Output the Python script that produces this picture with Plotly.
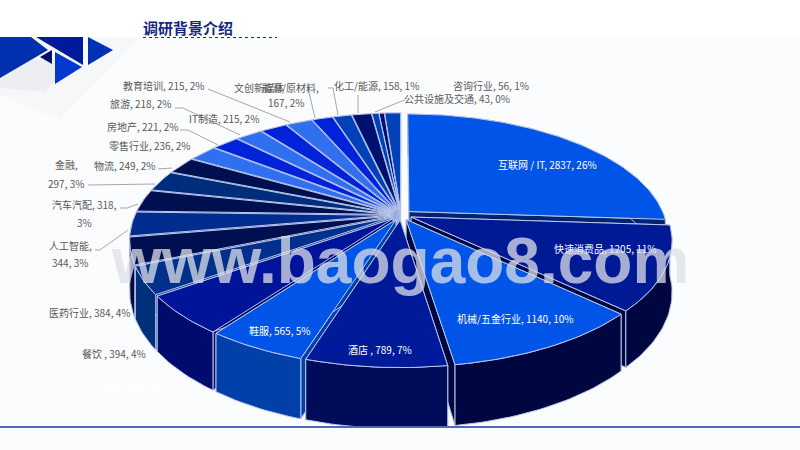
import math
import plotly.graph_objects as go

categories = ["互联网 / IT", "快速消费品", "机械/五金行业", "酒店 ", "鞋服", "建材家居", "餐饮 ", "医药行业", "人工智能",
              "汽车汽配", "金融", "物流", "零售行业", "房地产", "旅游", "IT制造", "教育培训", "文创新媒体", "能源/原材料",
              "化工/能源", "咨询行业", "公共设施及交通", "其他"]
values = [2837, 1205, 1140, 789, 565, 557, 394, 384, 344, 318, 297, 249, 236, 221, 218, 215, 215, 167, 150, 158, 56, 43, 130]
percents = [26, 11, 10, 7, 5, 5, 4, 4, 3, 3, 3, 2, 2, 2, 2, 2, 2, 2, 1, 1, 1, 0, 1]
top_colors = ["#0055E8", "#001A96", "#0055E8", "#001A9A", "#0055E8", "#001499", "#00308C", "#000F50", "#002C90",
              "#000F50", "#002C7C", "#000F50", "#3070F0", "#0022D8", "#3070F0", "#0022D8", "#3070F0", "#0022D8", "#0040B8",
              "#001070", "#0040B8", "#001070", "#0040B8"]
wall_colors = ["#00246E", "#00063F", "#00063F", "#000B5A", "#0040A8", "#000B6E", "#00307A", "#000A40", "#001F68",
               "#000A40", "#001F58", "#000A40", "#2050B0", "#0018A0", "#2050B0", "#0018A0", "#2050B0", "#0018A0", "#003090",
               "#000A50", "#003090", "#000A50", "#003090"]

# label placement (pixel centres); a list gives one row per line
label_pos = {
    0: [(547, 164)], 1: [(605, 248)], 2: [(515, 318)], 3: [(380, 349)], 4: [(279, 330)], 5: [(145, 387)],
    6: [(114, 353)], 7: [(89, 312)], 8: [(70, 245), (70, 262)], 9: [(84, 204), (84, 222)], 10: [(66, 164), (66, 183)],
    11: [(124, 165)], 12: [(149, 145)], 13: [(142, 126)], 14: [(140, 103)], 15: [(224, 118)], 16: [(163, 85)],
    19: [(376, 85)], 20: [(491, 85)], 21: [(457, 98)],
}
WHITE_LABELS = {0, 1, 2, 3, 4, 5}
leaders = [[(208, 89), (290, 122)], [(175, 108), (183, 108), (240, 135)], [(180, 130), (188, 130), (218, 145)],
           [(158, 169), (172, 168)], [(88, 185), (155, 184)], [(120, 208), (127, 208), (138, 204)],
           [(95, 250), (100, 250), (128, 230)], [(308, 88), (315, 118)], [(328, 88), (333, 88), (338, 115)],
           [(358, 95), (358, 113)], [(375, 112), (397, 103), (405, 100)]]

CX, CY, R, K, P, H, EXPLODE = 401, 215, 255, 0.46, 0.19, 49, 11
BG = "#FBFCFD"


def project(ux, vy, drop=0.0):
    s = 1 / (1 - P * vy / R)
    return CX + ux * s, CY + vy * K * s + drop * s


def slice_faces(a0, a1):
    mid = (a0 + a1) / 2
    ox, oy = EXPLODE * math.sin(mid), -EXPLODE * math.cos(mid)
    n = max(3, int((a1 - a0) / 0.02))
    rim = [(ox + R * math.sin(a0 + (a1 - a0) * i / n), oy - R * math.cos(a0 + (a1 - a0) * i / n)) for i in range(n + 1)]
    apex = (ox, oy)
    top = [project(*apex)] + [project(*p) for p in rim]
    outer = [project(*p) for p in rim] + [project(*p, H) for p in reversed(rim)]
    wall_a = [project(*apex), project(*rim[0]), project(*rim[0], H), project(*apex, H)]
    wall_b = [project(*apex), project(*rim[-1]), project(*rim[-1], H), project(*apex, H)]
    depth = math.cos(mid) * -1
    return depth, top, outer, wall_a, wall_b


def poly(points, fill, line="#B9C6EC", width=1.0, name=""):
    xs = [p[0] for p in points] + [points[0][0]]
    ys = [p[1] for p in points] + [points[0][1]]
    return go.Scatter(x=xs, y=ys, mode="lines", fill="toself", fillcolor=fill, line=dict(color=line, width=width),
                      name=name, hoverinfo="name", showlegend=False)


total = sum(values)
slices, angle = [], 0.0
for i, v in enumerate(values):
    a1 = angle + 2 * math.pi * v / total
    slices.append((i, slice_faces(angle, a1)))
    angle = a1
slices.sort(key=lambda t: t[1][0])

fig = go.Figure()
for i, (depth, top, outer, wall_a, wall_b) in slices:
    fig.add_trace(poly(wall_a, wall_colors[i], name=categories[i]))
    fig.add_trace(poly(wall_b, wall_colors[i], name=categories[i]))
    fig.add_trace(poly(outer, wall_colors[i], name=categories[i]))
    fig.add_trace(poly(top, top_colors[i], name=categories[i]))

shapes = [
    dict(type="path", path="M0,37 L140,37 L60,120 L0,95 Z", fillcolor="rgba(205,208,215,0.10)", line_width=0, layer="below"),
    dict(type="path", path="M0,60 L75,60 L45,92 L0,88 Z", fillcolor="rgba(205,208,215,0.22)", line_width=0, layer="below"),
    dict(type="path", path="M0,37 L31,37 L48,50 L0,78 Z", fillcolor="#0030B0", line_width=0),
    dict(type="path", path="M36,37 L83,37 L83,65 Z", fillcolor="#001A9A", line_width=0),
    dict(type="path", path="M88,37 L113,50 L88,65 Z", fillcolor="#0030B8", line_width=0),
    dict(type="path", path="M40,57 L52,50 L52,64 Z", fillcolor="#00106A", line_width=0),
    dict(type="path", path="M55,52 L82,67 L55,84 Z", fillcolor="#0038D0", line_width=0),
    dict(type="rect", x0=0, x1=800, y0=0, y1=37, fillcolor="#FFFFFF", line_width=0),
    dict(type="line", x0=143, x1=277, y0=37.5, y1=37.5, line=dict(color="#1A2A6A", width=1, dash="dot")),
    dict(type="rect", x0=0, x1=800, y0=428, y1=450, fillcolor=BG, line_width=0),
    dict(type="line", x0=0, x1=800, y0=427, y1=427, line=dict(color="#5568B8", width=2)),
]
for pts in leaders:
    path = "M" + " L".join(f"{x},{y}" for x, y in pts)
    shapes.append(dict(type="path", path=path, line=dict(color="#A6A6A6", width=1)))

FONT = "Noto Sans CJK SC"
annotations = []


def note(x, y, text, size=10, color="#595959", family=FONT):
    annotations.append(dict(x=x, y=y, xref="x", yref="y", text=text, showarrow=False, xanchor="center", yanchor="middle",
                            font=dict(size=size, color=color, family=family)))


for i, pos in label_pos.items():
    full = f"{categories[i]}, {values[i]}, {percents[i]}%"
    color = "#FFFFFF" if i in WHITE_LABELS else "#595959"
    if len(pos) == 1:
        note(*pos[0], full, color=color)
    elif i == 9:
        note(*pos[0], f"{categories[i]}, {values[i]},", color=color)
        note(*pos[1], f"{percents[i]}%", color=color)
    else:
        note(*pos[0], f"{categories[i]},", color=color)
        note(*pos[1], f"{values[i]}, {percents[i]}%", color=color)
note(259, 87, "文创新媒体", color="#595959")
note(290, 87, "能源/原材料,", color="#595959")
note(286, 102, f"{values[17]}, {percents[17]}%", color="#595959")
note(188, 27, "<b>调研背景介绍</b>", size=15, color="#14297A")
note(400, 261, "<b>www.baogao8.com</b>", size=64, color="rgba(222,224,232,0.75)", family="Liberation Sans")

fig.update_layout(
    width=800, height=450, margin=dict(l=0, r=0, t=0, b=0), paper_bgcolor=BG, plot_bgcolor=BG, showlegend=False,
    xaxis=dict(range=[0, 800], visible=False, fixedrange=True),
    yaxis=dict(range=[450, 0], visible=False, fixedrange=True),
    shapes=shapes, annotations=annotations,
)
fig.write_html("out.html", config=dict(displayModeBar=False),
               post_script="document.body.style.margin='0';document.body.style.background='#FBFCFD';")
